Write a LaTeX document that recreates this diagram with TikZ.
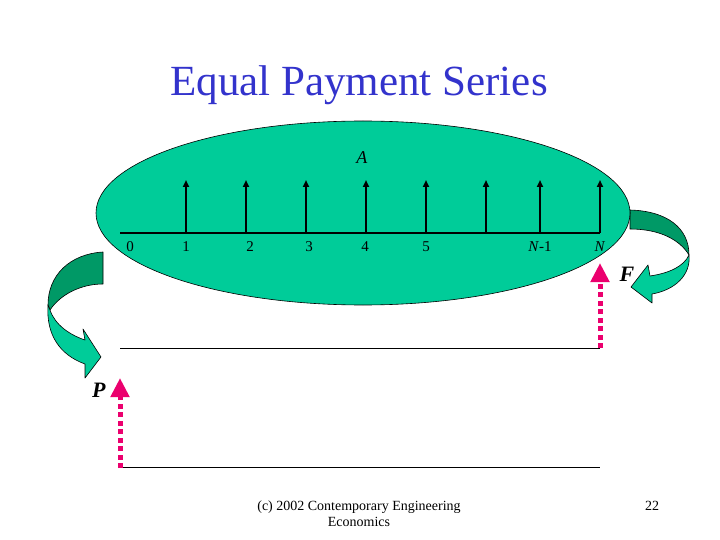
\documentclass[tikz,border=0pt]{standalone}
\usepackage{fontspec}
\setmainfont{Liberation Serif}
\usetikzlibrary{arrows.meta}
\definecolor{sea}{RGB}{0,204,153}
\definecolor{darksea}{RGB}{0,153,102}
\definecolor{hotpink}{RGB}{235,0,110}
\definecolor{titleblue}{RGB}{51,51,204}
\tikzset{
  pay/.style={line width=1.8pt,-{Triangle[length=7pt,width=6pt]}},
  cashflow/.style={hotpink,line width=5pt,dash pattern=on 5pt off 3.5pt,-{Triangle[length=19pt,width=18pt]}},
  period/.style={inner sep=0pt,font=\fontsize{15}{15}\selectfont},
  twist/.style={draw=black,line width=0.6pt,line join=round},
}
\begin{document}
\begin{tikzpicture}[x=1pt,y=-1pt]
  \useasboundingbox (0,0) rectangle (720,540);

  % title
  \node[anchor=base,inner sep=0pt,titleblue,font=\fontsize{43}{43}\selectfont] (title) at (359,96) {Equal Payment Series};

  % curved arrow to the right (towards F)
  \filldraw[twist,fill=darksea] (630,210) .. controls (667,211) and (689,228) .. (689,255)
      .. controls (680,240) and (660,229) .. (630,229) -- cycle;
  \filldraw[twist,fill=sea] (689,255) .. controls (684,266) and (670,273) .. (650,276)
      -- (648,265) -- (631,287) -- (652,303) -- (652,294)
      .. controls (675,290) and (691,275) .. (689,255) -- cycle;

  % curved arrow to the left (towards P)
  \filldraw[twist,fill=darksea] (103,252) .. controls (70,254) and (48,275) .. (48,305)
      -- (50,310) .. controls (60,295) and (80,284) .. (103,284) -- cycle;
  \filldraw[twist,fill=sea] (48,305) .. controls (46,335) and (60,355) .. (85,364)
      -- (85,378) -- (101,357) -- (83,329) -- (85,340)
      .. controls (70,335) and (55,325) .. (50,310) -- cycle;

  % equal payments
  \filldraw[fill=sea,draw=black,line width=0.6pt] (363,213) ellipse [x radius=267, y radius=92];
  \coordinate (t0) at (120,233);
  \coordinate (tN) at (600,233);
  \draw[line width=1.2pt] (t0) -- (tN);
  \foreach \x [count=\i] in {186,246,306,366,426,486,540,600}{
    \coordinate (foot\i) at (\x,233);
    \coordinate (head\i) at (\x,180);
    \draw[pay] (foot\i) -- (head\i);
  }
  \foreach \x/\t [count=\i] in {130/0,186/1,250/2,309/3,365/4,426/5,540/{\textit{N}-1},600/\textit{N}}
    \node[period] (period\i) at (\x,247) {\t};
  \node[inner sep=0pt,font=\fontsize{18}{18}\selectfont] (lblA) at (362,158) {\textit{A}};

  % future value
  \coordinate (f0) at (120,348);
  \coordinate (f1) at (600,348);
  \draw[line width=1pt] (f0) -- (f1);
  \coordinate (Ffoot) at (600,348);
  \coordinate (Ftip) at (600,263);
  \draw[cashflow] (Ffoot) -- (Ftip);
  \node[inner sep=0pt,font=\fontsize{22}{22}\selectfont] (lblF) at (627,274) {\textbf{\textit{F}}};

  % present value
  \coordinate (p0) at (120,467);
  \coordinate (p1) at (600,467);
  \draw[line width=1pt] (p0) -- (p1);
  \coordinate (Pfoot) at (120,468);
  \coordinate (Ptip) at (120,378);
  \draw[cashflow] (Pfoot) -- (Ptip);
  \node[inner sep=0pt,font=\fontsize{22}{22}\selectfont] (lblP) at (99,390) {\textbf{\textit{P}}};

  % footer
  \node[align=center,inner sep=0pt,font=\fontsize{14}{16}\selectfont] (footer) at (359,514)
      {(c) 2002 Contemporary Engineering\\Economics};
  \node[inner sep=0pt,font=\fontsize{14}{14}\selectfont] (pagenum) at (652,506) {22};
\end{tikzpicture}
\end{document}
